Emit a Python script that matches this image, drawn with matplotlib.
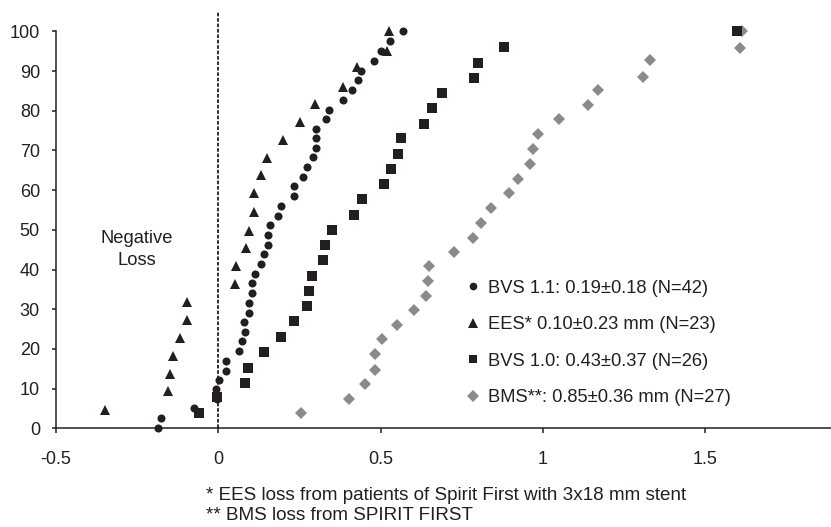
import matplotlib
matplotlib.use("Agg")
import matplotlib.pyplot as plt

plt.rcParams['font.family'] = ['Liberation Sans', 'DejaVu Sans']

# ---- data (loss in mm, cumulative %) ----
bvs11_x = [0.570, 0.530, 0.500, 0.480, 0.439, 0.431, 0.412, 0.383, 0.341, 0.331,
           0.302, 0.302, 0.302, 0.293, 0.272, 0.262, 0.232, 0.232, 0.192, 0.184,
           0.161, 0.153, 0.154, 0.142, 0.133, 0.113, 0.105, 0.103, 0.094, 0.094,
           0.080, 0.083, 0.072, 0.065, 0.023, 0.023, 0.002, -0.007, -0.005, -0.075,
           -0.176, -0.186]
bvs11_y = [100.0, 97.5, 95.0, 92.4, 90.1, 87.7, 85.3, 82.8, 80.3, 77.9,
           75.5, 73.0, 70.6, 68.3, 65.8, 63.4, 61.0, 58.4, 56.0, 53.6,
           51.2, 48.6, 46.2, 43.8, 41.4, 38.9, 36.5, 34.0, 31.6, 29.1,
           26.7, 24.3, 21.9, 19.4, 17.0, 14.5, 12.2, 9.8, 7.4, 5.1,
           2.5, 0.2]

ees_x = [0.525, 0.519, 0.428, 0.385, 0.297, 0.251, 0.201, 0.149, 0.131, 0.111,
         0.110, 0.096, 0.085, 0.054, 0.052, -0.095, -0.097, -0.118, -0.140, -0.150,
         -0.156, -0.348]
ees_y = [100.0, 95.1, 90.9, 86.0, 81.7, 77.2, 72.6, 68.2, 63.7, 59.3,
         54.4, 49.8, 45.4, 41.0, 36.3, 31.8, 27.2, 22.8, 18.3, 13.8,
         9.3, 4.6]

bvs10_x = [1.600, 0.881, 0.802, 0.789, 0.691, 0.660, 0.633, 0.562, 0.553, 0.531,
           0.512, 0.442, 0.419, 0.352, 0.330, 0.323, 0.290, 0.281, 0.274, 0.232,
           0.192, 0.142, 0.093, 0.083, -0.005, -0.059]
bvs10_y = [100.0, 96.1, 92.1, 88.2, 84.5, 80.6, 76.7, 73.0, 69.1, 65.3,
           61.5, 57.7, 53.8, 50.0, 46.1, 42.5, 38.4, 34.7, 30.8, 27.0,
           23.1, 19.2, 15.2, 11.5, 8.0, 3.9]

bms_x = [1.615, 1.607, 1.330, 1.308, 1.170, 1.139, 1.049, 0.985, 0.969, 0.961,
         0.924, 0.895, 0.842, 0.811, 0.785, 0.727, 0.650, 0.646, 0.641, 0.602,
         0.552, 0.506, 0.484, 0.482, 0.452, 0.402, 0.254]
bms_y = [100.0, 95.9, 92.7, 88.6, 85.1, 81.4, 77.9, 74.1, 70.4, 66.5,
         62.9, 59.3, 55.4, 51.7, 48.0, 44.3, 40.8, 37.1, 33.4, 29.7,
         26.0, 22.4, 18.6, 14.7, 11.2, 7.5, 3.8]

labels = ["BVS 1.1: 0.19\u00b10.18 (N=42)",
          "EES* 0.10\u00b10.23 mm (N=23)",
          "BVS 1.0: 0.43\u00b10.37 (N=26)",
          "BMS**: 0.85\u00b10.36 mm (N=27)"]

xticks = [-0.5, 0, 0.5, 1, 1.5, 2]
xticklabels = ["-0.5", "0", "0.5", "1", "1.5", "2"]
yticks = list(range(0, 101, 10))

footnote1 = "* EES loss from patients of Spirit First with 3x18 mm stent"
footnote2 = "** BMS loss from SPIRIT FIRST"

ink = "#231f20"
grey = "#8a8a8d"

W, H = 831, 527
fig = plt.figure(figsize=(W / 100, H / 100), dpi=100)
ax = fig.add_axes([56 / W, (H - 428.3) / H, (W - 56) / W, (428.3 - 31.3) / H])

h_bms, = ax.plot(bms_x, bms_y, linestyle="none", marker="D", markersize=6.2,
                 color=grey, markeredgewidth=0, clip_on=False, zorder=3)
h_b10, = ax.plot(bvs10_x, bvs10_y, linestyle="none", marker="s", markersize=6.8,
                 color=ink, markeredgewidth=0, clip_on=False, zorder=4)
h_ees, = ax.plot(ees_x, ees_y, linestyle="none", marker="^", markersize=7.6,
                 color=ink, markeredgewidth=0, clip_on=False, zorder=5)
h_b11, = ax.plot(bvs11_x, bvs11_y, linestyle="none", marker="o", markersize=5.8,
                 color=ink, markeredgewidth=0, clip_on=False, zorder=6)

ax.axvline(0, ymin=0, ymax=1.05, color=ink, linestyle=(0, (2.0, 1.0)),
           linewidth=1.3, clip_on=False, zorder=2)

ax.set_xlim(-0.5, -0.5 + (W - 56) / 324.5)
ax.set_ylim(0, 100)
ax.set_xticks(xticks[:5])
ax.set_xticklabels(xticklabels[:5])
ax.set_yticks(yticks)

for s in ["top", "right"]:
    ax.spines[s].set_visible(False)
for s in ["left", "bottom"]:
    ax.spines[s].set_color(ink)
    ax.spines[s].set_linewidth(1.1)

ax.tick_params(axis="y", direction="out", length=3, width=1.1, pad=8.6,
               labelsize=13, colors=ink)
ax.tick_params(axis="x", direction="out", length=3.6, width=1.1, pad=12.8,
               labelsize=13, colors=ink)

ax.text(-0.25, 45.0, "Negative\nLoss", ha="center", va="center",
        fontsize=13.2, color=ink, linespacing=1.4)

leg = ax.legend([h_b11, h_ees, h_b10, h_bms], labels,
                loc="center left", bbox_to_anchor=(466 / W, 1 - 343 / H),
                bbox_transform=fig.transFigure, frameon=False, fontsize=13.2,
                handlelength=0.8, handletextpad=0.4, borderpad=0,
                borderaxespad=0, labelspacing=1.06, markerscale=0.95)
for t in leg.get_texts():
    t.set_color(ink)

fig.text(206 / W, 1 - 495.7 / H, footnote1, ha="left", va="center",
         fontsize=13.6, color=ink)
fig.text(206 / W, 1 - 515.5 / H, footnote2, ha="left", va="center",
         fontsize=13.6, color=ink)

fig.savefig("out.png", dpi=100)
